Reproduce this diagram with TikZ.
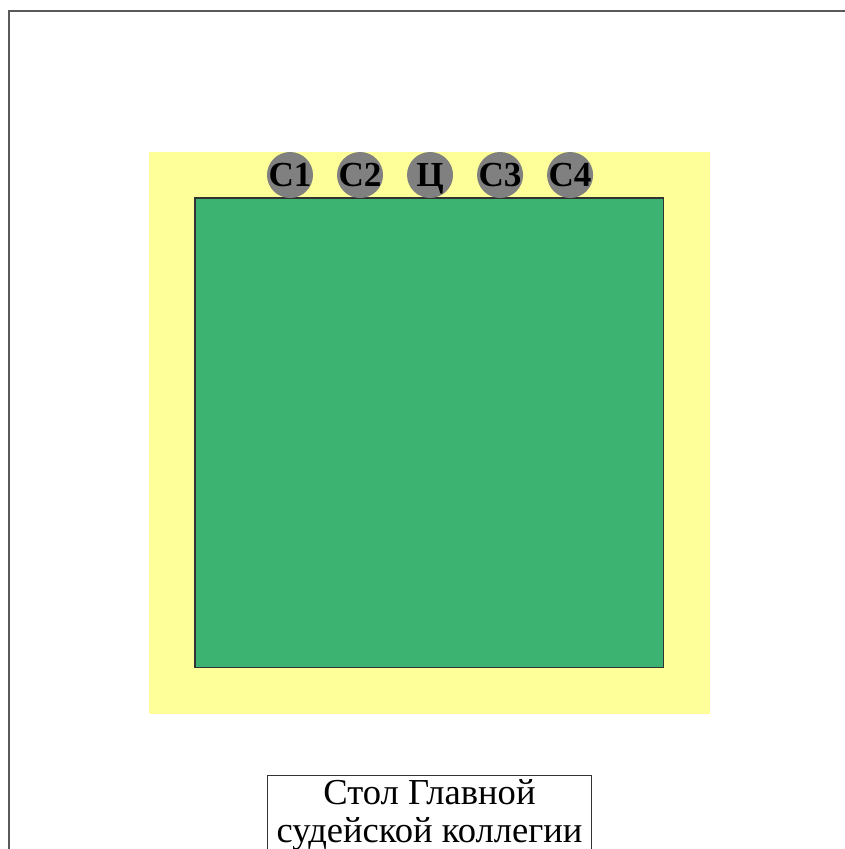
\documentclass[tikz,border=0pt]{standalone}
\usepackage{fontspec}
\setmainfont{Liberation Serif}
\usepackage{xcolor}
\usetikzlibrary{positioning}

\definecolor{hallyellow}{HTML}{FFFF99}
\definecolor{fieldgreen}{HTML}{3CB371}
\definecolor{judgegray}{HTML}{808080}
\definecolor{framegray}{HTML}{5A5A5A}

\begin{document}
\begin{tikzpicture}[
    x=0.025cm, y=-0.025cm,
    node distance=1.75cm, on grid,
    zone/.style={rectangle, fill=hallyellow, minimum width=14.025cm, minimum height=14.05cm, inner sep=0pt},
    field/.style={rectangle, draw=black!80, line width=0.8pt, fill=fieldgreen, minimum width=11.7cm, minimum height=11.725cm, inner sep=0pt},
    judge/.style={circle, fill=judgegray, minimum size=1.15cm, inner sep=-1.5pt, text height=0.58cm, text depth=0pt, font=\fontsize{25}{25}\selectfont\bfseries},
    tablebox/.style={rectangle, draw=black!80, line width=0.7pt, align=center, minimum width=8.075cm, anchor=north, inner sep=0pt, text height=1.68cm, text depth=2cm, font=\fontsize{26}{27.5}\selectfont}
]
    \clip (0,0) rectangle (845,849);
    \fill[white] (0,0) rectangle (845,849);

    % Frame
    \draw[framegray, line width=1.4pt] (9,860) -- (9,11) -- (860,11);

    % Nodes
    \node[zone] (zone) at (429.5,433) {};
    \node[field] (field) at (429,432.5) {};
    \node[judge] (c1) at (290,175) {С1};
    \node[judge, right=of c1] (c2) {С2};
    \node[judge, right=of c2] (ct) {Ц};
    \node[judge, right=of ct] (c3) {С3};
    \node[judge, right=of c3] (c4) {С4};

    \node[tablebox] (table) at (429.5,775) {Стол Главной\\судейской коллегии};
\end{tikzpicture}
\end{document}
